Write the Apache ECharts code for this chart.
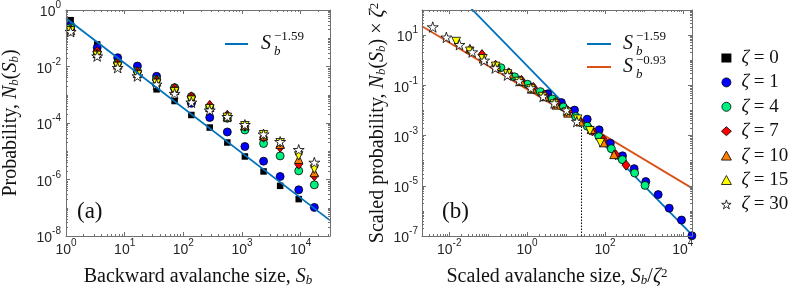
<!DOCTYPE html>
<html><head><meta charset="utf-8">
<script src="https://cdn.jsdelivr.net/npm/echarts@6/dist/echarts.min.js"></script>
<style>html,body{margin:0;padding:0;background:#fff}#c{width:790px;height:292px}</style>
</head><body><div id="c"></div><script>
// ---- data ----
const S_b = [1.2, 3.4, 7.6, 16.5, 35, 71, 137, 282, 562, 1120, 2330, 4470, 9260, 17100];
const N_zeta0  = [0.436, 0.0604, 0.01784, 0.00506, 0.001555, 6.00e-4, 1.92e-4, 6.90e-5, 2.04e-5, 6.53e-6, 1.93e-6, 5.97e-7, 2.02e-7];
const N_zeta1  = [0.2835, 0.0462, 0.0205, 0.01035, 0.00448, 0.001687, 4.98e-4, 1.56e-4, 4.82e-5, 1.47e-5, 4.45e-6, 1.28e-6, 4.31e-7, 1.03e-7];
const N_zeta4  = [0.235, 0.0315, 0.01364, 0.00689, 0.00351, 0.001786, 8.59e-4, 3.60e-4, 1.47e-4, 5.68e-5, 1.88e-5, 6.85e-6, 2.02e-6, 6.48e-7];
const N_zeta7  = [0.2048, 0.0342, 0.01289, 0.00646, 0.00323, 0.001687, 8.45e-4, 4.23e-4, 1.88e-4, 7.67e-5, 3.13e-5, 1.39e-5, 3.49e-6, 1.35e-6];
const N_zeta10 = [0.1887, 0.0291, 0.01141, 0.00571, 0.00286, 0.001434, 7.18e-4, 3.60e-4, 1.66e-4, 7.99e-5, 3.54e-5, 1.77e-5, 5.24e-6, 1.78e-6];
const N_zeta15 = [0.1812, 0.0247, 0.01010, 0.00506, 0.00253, 0.001269, 6.36e-4, 3.18e-4, 1.59e-4, 7.99e-5, 3.84e-5, 2.00e-5, 6.85e-6, 2.32e-6];
const N_zeta30 = [0.1698, 0.0233, 0.00908, 0.00459, 0.00234, 0.001096, 5.40e-4, 2.82e-4, 1.66e-4, 8.67e-5, 4.00e-5, 2.17e-5, 1.13e-5, 4.00e-6];
const zetaList = [0, 1, 4, 7, 10, 15, 30];
const zetaNames = ['ζ = 0', 'ζ = 1', 'ζ = 4', 'ζ = 7', 'ζ = 10', 'ζ = 15', 'ζ = 30'];
const firstScaledBin = 1;   // panel (b) starts at the second size bin
// fit lines  N = A * S^exp
const fitA1 = { A: 0.51, exp: -1.59 };
const fitB1 = { A: 0.6, exp: -1.59 };
const fitB2 = { A: 0.07, exp: -0.93 };
const crossoverX = 25, crossoverTop = 2.5e-3;
// axes
const xRangeA = [1, 31623],  yRangeA = [1e-8, 1];
const xRangeB = [0.002, 17200], yRangeB = [1e-7, 100];
const xTicksA = [1, 10, 100, 1000, 10000];
const yTicksA = [1e-8, 1e-6, 1e-4, 1e-2, 1];
const xTicksB = [1e-2, 1, 1e2, 1e4];
const yTicksB = [1e-7, 1e-5, 1e-3, 1e-1, 10];

// ---- styles ----
const AX = '#707070';
const TXT = '#262626';
const SERIF = '"Liberation Serif", "DejaVu Serif", serif';
const SANS = '"Liberation Sans", Arial, sans-serif';
const STAR = 'path://M0,-5L1.12,-1.55L4.76,-1.55L1.82,0.59L2.94,4.05L0,1.91L-2.94,4.05L-1.82,0.59L-4.76,-1.55L-1.12,-1.55Z';
const markerStyles = [
  { symbol: 'rect', size: 6.5, color: '#000000', border: '#000000', bw: 0, rot: 0 },
  { symbol: 'circle', size: 8, color: '#0000ff', border: '#000000', bw: 0.8, rot: 0 },
  { symbol: 'circle', size: 8, color: '#00f080', border: '#000000', bw: 0.8, rot: 0 },
  { symbol: 'diamond', size: [8, 10], color: '#ff0000', border: '#000000', bw: 0.8, rot: 0 },
  { symbol: 'triangle', size: 8.5, color: '#ff8000', border: '#000000', bw: 0.8, rot: 0 },
  { symbol: 'triangle', size: 8.5, color: '#ffff00', border: '#000000', bw: 0.8, rot: 180 },
  { symbol: STAR, size: 11, color: '#ffffff', border: '#000000', bw: 0.8, rot: 0 }
];
const Nlist = [N_zeta0, N_zeta1, N_zeta4, N_zeta7, N_zeta10, N_zeta15, N_zeta30];

function minorTicks(lo, hi, majors) {
  const out = [];
  for (let d = Math.floor(Math.log10(lo)) - 1; d <= Math.ceil(Math.log10(hi)); d++) {
    for (let k = 1; k <= 9; k++) {
      const v = k * Math.pow(10, d);
      if (v > lo * 1.0001 && v < hi / 1.0001 && !majors.some(m => Math.abs(m - v) / m < 1e-6)) out.push(v);
    }
  }
  return out;
}
const supRich = {
  b: { fontFamily: SANS, fontSize: 14, color: TXT, verticalAlign: 'bottom', lineHeight: 19 },
  s: { fontFamily: SANS, fontSize: 10, color: TXT, verticalAlign: 'top', lineHeight: 10 }
};
function powLabel(v) {
  const e = Math.round(Math.log10(v));
  return '{b|10}{s|' + e + '}';
}
const NF = 20;
const nameRich = {
  r: { fontFamily: SERIF, fontSize: NF, color: '#111', verticalAlign: 'middle', lineHeight: NF },
  i: { fontFamily: SERIF, fontStyle: 'italic', fontSize: NF, color: '#111', verticalAlign: 'middle', lineHeight: NF },
  sub: { fontFamily: SERIF, fontStyle: 'italic', fontSize: 13, color: '#111', verticalAlign: 'bottom', lineHeight: 13 },
  sup: { fontFamily: SERIF, fontSize: 13, color: '#111', verticalAlign: 'top', lineHeight: 13 }
};
function axisSet(gridIndex, range, majors, pos, mirrorPos, labelMargin, name, nameGap) {
  const minors = minorTicks(range[0], range[1], majors);
  const base = { type: 'log', logBase: 10, gridIndex, min: range[0], max: range[1], splitLine: { show: false }, z: 5 };
  const main = Object.assign({}, base, {
    position: pos,
    axisLine: { show: true, lineStyle: { color: AX, width: 1 } },
    axisTick: { show: true, inside: true, length: 4, customValues: majors, lineStyle: { color: AX, width: 1 } },
    axisLabel: { show: true, customValues: majors, formatter: powLabel, rich: supRich, margin: labelMargin, color: TXT },
    name: name, nameLocation: 'middle', nameGap: nameGap,
    nameTextStyle: { rich: nameRich, lineHeight: 26 }
  });
  const minor = Object.assign({}, base, {
    position: pos,
    axisLine: { show: false },
    axisTick: { show: true, inside: true, length: 2, customValues: minors, lineStyle: { color: AX, width: 1 } },
    axisLabel: { show: false }
  });
  const mirror = Object.assign({}, base, {
    position: mirrorPos,
    axisLine: { show: true, lineStyle: { color: AX, width: 1 } },
    axisTick: { show: true, inside: true, length: 4, customValues: majors, lineStyle: { color: AX, width: 1 } },
    axisLabel: { show: false }
  });
  const mirrorMinor = Object.assign({}, minor, { position: mirrorPos });
  return [main, minor, mirror, mirrorMinor];
}

const xAxes = [].concat(
  axisSet(0, xRangeA, xTicksA, 'bottom', 'top', 2, '{r|Backward avalanche size, }{i|S}{sub|b}', 31),
  axisSet(1, xRangeB, xTicksB, 'bottom', 'top', 2, '{r|Scaled avalanche size, }{i|S}{sub|b}{r|/}{i|ζ}{sup|2}', 31)
);
const yAxes = [].concat(
  axisSet(0, yRangeA, yTicksA, 'left', 'right', 5, '{r|Probability, }{i|N}{sub|b}{r|(}{i|S}{sub|b}{r|)}', 45),
  axisSet(1, yRangeB, yTicksB, 'left', 'right', 4, '{r|Scaled probability, }{i|N}{sub|b}{r|(}{i|S}{sub|b}{r|) × }{i|ζ}{sup|2}', 34)
);

const series = [];
// panel (a) markers
zetaList.forEach((z, k) => {
  const m = markerStyles[k];
  series.push({
    type: 'scatter', name: zetaNames[k], xAxisIndex: 0, yAxisIndex: 0,
    data: Nlist[k].map((n, i) => [S_b[i], n]),
    symbol: m.symbol, symbolSize: m.size, symbolRotate: m.rot, symbolKeepAspect: true,
    itemStyle: { color: m.color, borderColor: m.border, borderWidth: m.bw, opacity: 1 },
    z: 3 + k * 0.01, clip: true
  });
});
// panel (a) fit line
series.push({
  type: 'line', name: 'fitA', xAxisIndex: 0, yAxisIndex: 0, showSymbol: false, symbol: 'none',
  data: xRangeA.map(s => [s, fitA1.A * Math.pow(s, fitA1.exp)]),
  lineStyle: { color: '#0072BD', width: 1.8 }, z: 4, clip: true
});
// panel (b) fit lines + dotted marker
series.push({
  type: 'line', name: 'fitB1', xAxisIndex: 4, yAxisIndex: 4, showSymbol: false, symbol: 'none',
  data: xRangeB.map(s => [s, fitB1.A * Math.pow(s, fitB1.exp)]),
  lineStyle: { color: '#0072BD', width: 1.8 }, z: 2, clip: true
});
series.push({
  type: 'line', name: 'fitB2', xAxisIndex: 4, yAxisIndex: 4, showSymbol: false, symbol: 'none',
  data: xRangeB.map(s => [s, fitB2.A * Math.pow(s, fitB2.exp)]),
  lineStyle: { color: '#D95319', width: 1.8 }, z: 2, clip: true
});
series.push({
  type: 'line', name: 'cross', xAxisIndex: 4, yAxisIndex: 4, showSymbol: false, symbol: 'none',
  data: [[crossoverX, yRangeB[0]], [crossoverX, crossoverTop]],
  lineStyle: { color: '#000', width: 1, type: [1.5, 1.5] }, z: 2, clip: true
});
// panel (b) scaled markers (ζ = 0 has no scaled version)
zetaList.forEach((z, k) => {
  if (z === 0) return;
  const m = markerStyles[k];
  const pts = [];
  for (let i = firstScaledBin; i < Nlist[k].length; i++) pts.push([S_b[i] / (z * z), Nlist[k][i] * z * z]);
  series.push({
    type: 'scatter', name: zetaNames[k], xAxisIndex: 4, yAxisIndex: 4,
    data: pts,
    symbol: m.symbol, symbolSize: m.size, symbolRotate: m.rot, symbolKeepAspect: true,
    itemStyle: { color: m.color, borderColor: m.border, borderWidth: m.bw, opacity: 1 },
    z: 3 + k * 0.01, clip: true
  });
});

function txt(x, y, s, font, align) {
  return { type: 'text', x, y, z: 10, style: { text: s, font, fill: '#111', textAlign: align || 'left', textVerticalAlign: 'middle' } };
}
const graphics = [
  // legend of fit lines, panel (a)
  { type: 'line', shape: { x1: 225, y1: 44, x2: 248, y2: 44 }, style: { stroke: '#0072BD', lineWidth: 2 }, z: 10 },
  txt(261, 44, 'S', 'italic 20px ' + SERIF),
  txt(274, 36.5, '−1.59', '13px ' + SERIF),
  txt(274, 51.5, 'b', 'italic 13px ' + SERIF),
  // legend of fit lines, panel (b)
  { type: 'line', shape: { x1: 587, y1: 44, x2: 611, y2: 44 }, style: { stroke: '#0072BD', lineWidth: 2 }, z: 10 },
  txt(623, 44, 'S', 'italic 20px ' + SERIF),
  txt(636, 37, '−1.59', '13px ' + SERIF),
  txt(636, 51.5, 'b', 'italic 13px ' + SERIF),
  { type: 'line', shape: { x1: 587, y1: 67, x2: 611, y2: 67 }, style: { stroke: '#D95319', lineWidth: 2 }, z: 10 },
  txt(623, 67, 'S', 'italic 20px ' + SERIF),
  txt(636, 61, '−0.93', '13px ' + SERIF),
  txt(636, 74.5, 'b', 'italic 13px ' + SERIF),
  // panel labels
  txt(77, 212, '(a)', '23px ' + SERIF),
  txt(442, 212, '(b)', '23px ' + SERIF)
];

const legendData = zetaNames.map((n, k) => ({
  name: n,
  itemStyle: { color: markerStyles[k].color, borderColor: markerStyles[k].border, borderWidth: markerStyles[k].bw }
}));

const chart = echarts.init(document.getElementById('c'), null, { renderer: 'canvas' });
chart.setOption({
  animation: false,
  backgroundColor: '#ffffff',
  grid: [
    { left: 60, top: 10, width: 270, height: 227, containLabel: false },
    { left: 422, top: 10, width: 270, height: 227, containLabel: false }
  ],
  xAxis: xAxes,
  yAxis: yAxes,
  legend: {
    data: legendData, orient: 'vertical', left: 716, top: 43,
    itemWidth: 10, itemHeight: 9, itemGap: 4.4, selectedMode: false, symbolKeepAspect: true,
    textStyle: { fontFamily: SERIF, fontSize: 19, color: '#111', lineHeight: 20, padding: [0, 0, 0, 5],
      rich: { z: { fontFamily: SERIF, fontStyle: 'italic', fontSize: 19, color: '#111' },
              t: { fontFamily: SERIF, fontSize: 19, color: '#111' } } },
    formatter: n => '{z|ζ}{t|' + n.slice(1) + '}'
  },
  graphic: graphics,
  series
});
</script></body></html>
